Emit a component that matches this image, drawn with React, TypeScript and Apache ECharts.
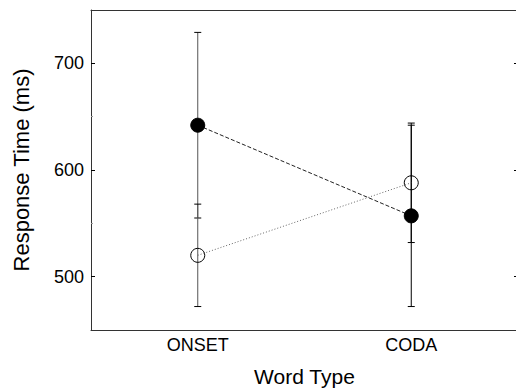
import React, { useEffect, useRef } from "react";
import * as echarts from "echarts";

const categories = ["ONSET", "CODA"];
const filledMeans = [642, 557];
const filledLow = [555, 472];
const filledHigh = [729, 642];
const openMeans = [520, 588];
const openLow = [472, 532];
const openHigh = [568, 644];
const yMajorTicks = [500, 600, 700];
const yMinorTicks = [550, 650];

export default function App() {
  const ref = useRef<HTMLDivElement>(null);
  useEffect(() => {
    const chart = echarts.init(ref.current!, null, { renderer: "svg" });
    const font = "'Liberation Sans', Arial, Helvetica, sans-serif";
    const errData = [
      ...categories.map((_c, i) => [i, filledLow[i], filledHigh[i]]),
      ...categories.map((_c, i) => [i, openLow[i], openHigh[i]]),
    ];
    const renderErr = (_params: any, api: any) => {
      const x = api.value(0);
      const lo = api.coord([x, api.value(1)]);
      const hi = api.coord([x, api.value(2)]);
      const hw = 3.5;
      const style = { stroke: x === 0 ? "#555" : "#000", lineWidth: 1 };
      return {
        type: "group",
        children: [
          { type: "line", shape: { x1: lo[0], y1: lo[1], x2: hi[0], y2: hi[1] }, style },
          { type: "line", shape: { x1: lo[0] - hw, y1: lo[1], x2: lo[0] + hw, y2: lo[1] }, style: { stroke: "#000", lineWidth: 1 } },
          { type: "line", shape: { x1: hi[0] - hw, y1: hi[1], x2: hi[0] + hw, y2: hi[1] }, style: { stroke: "#000", lineWidth: 1 } },
        ],
      };
    };
    const axisLine = { show: true, lineStyle: { color: "#333", width: 1 } };
    const yBase = { type: "value", min: 450, max: 750, splitLine: { show: false } };
    chart.setOption({
      animation: false,
      textStyle: { fontFamily: font },
      grid: { left: 91, top: 10, width: 427, height: 320, containLabel: false, outerBoundsMode: "none" },
      xAxis: [
        {
          type: "category",
          data: categories,
          boundaryGap: true,
          position: "bottom",
          axisLine,
          axisTick: { show: false },
          axisLabel: { color: "#000", fontSize: 18, margin: 6, fontFamily: font },
          name: "Word Type",
          nameLocation: "middle",
          nameGap: 36,
          nameTextStyle: { color: "#000", fontSize: 21, fontFamily: font },
        },
        {
          type: "category",
          data: categories,
          boundaryGap: true,
          position: "top",
          axisLine,
          axisTick: { show: false },
          axisLabel: { show: false },
        },
      ],
      yAxis: [
        {
          ...yBase,
          position: "left",
          axisLine,
          axisTick: { show: true, inside: true, length: 4, customValues: yMajorTicks, lineStyle: { color: "#000" } },
          axisLabel: { color: "#000", fontSize: 18, margin: 7, customValues: yMajorTicks, fontFamily: font },
          name: "Response Time (ms)",
          nameLocation: "middle",
          nameGap: 59,
          nameTextStyle: { color: "#000", fontSize: 22, fontFamily: font },
        },
        {
          ...yBase,
          position: "right",
          axisLine,
          axisTick: { show: true, inside: true, length: 4, customValues: yMajorTicks, lineStyle: { color: "#000" } },
          axisLabel: { show: false },
        },
        {
          ...yBase,
          position: "left",
          axisLine: { show: false },
          axisTick: { show: true, inside: true, length: 2, customValues: yMinorTicks, lineStyle: { color: "#999" } },
          axisLabel: { show: false },
        },
        {
          ...yBase,
          position: "right",
          axisLine: { show: false },
          axisTick: { show: true, inside: true, length: 2, customValues: yMinorTicks, lineStyle: { color: "#999" } },
          axisLabel: { show: false },
        },
      ],
      series: [
        {
          type: "custom",
          renderItem: renderErr,
          data: errData,
          encode: { x: 0, y: [1, 2] },
          xAxisIndex: 0,
          yAxisIndex: 0,
          silent: true,
          z: 1,
        },
        {
          type: "line",
          data: filledMeans,
          xAxisIndex: 0,
          yAxisIndex: 0,
          symbol: "circle",
          symbolSize: 14,
          itemStyle: { color: "#000", borderColor: "#000", borderWidth: 1 },
          lineStyle: { color: "#222", width: 1, type: [4, 2] },
          z: 3,
        },
        {
          type: "line",
          data: openMeans,
          xAxisIndex: 0,
          yAxisIndex: 0,
          symbol: "circle",
          symbolSize: 14,
          itemStyle: { color: "rgba(0,0,0,0)", borderColor: "#000", borderWidth: 1 },
          lineStyle: { color: "#666", width: 1, type: [1, 2] },
          z: 3,
        },
      ],
    });
    return () => chart.dispose();
  }, []);
  return (
    <div
      ref={ref}
      style={{ position: "fixed", left: 0, top: 0, width: 516, height: 392, background: "#fff" }}
    />
  );
}
